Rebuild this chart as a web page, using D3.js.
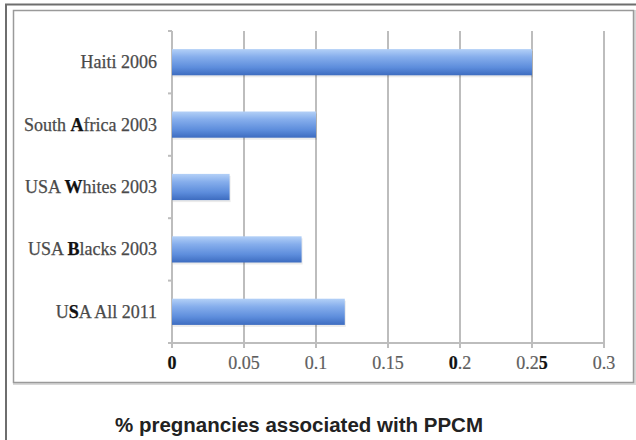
<!DOCTYPE html>
<html>
<head>
<meta charset="utf-8">
<script src="https://cdn.jsdelivr.net/npm/d3@7"></script>
<style>
  html, body { margin: 0; padding: 0; background: #fff; }
  svg { display: block; }
</style>
</head>
<body>
<svg id="chart" width="636" height="440"></svg>
<script>
// ---- data ----
const categories = ["Haiti 2006", "South Africa 2003", "USA Whites 2003", "USA Blacks 2003", "USA All 2011"];
// letters that appear emphasised (bold) in the original rendering: [prefix, bold, suffix]
const categoryParts = [
  ["Haiti 2006", "", ""],
  ["South ", "A", "frica 2003"],
  ["USA ", "W", "hites 2003"],
  ["USA ", "B", "lacks 2003"],
  ["U", "S", "A All 2011"]
];
const values = [0.25, 0.10, 0.04, 0.09, 0.12];
const xTicks = [0, 0.05, 0.1, 0.15, 0.2, 0.25, 0.3];
const xTickParts = [["", "0", ""], ["0.05", "", ""], ["0.1", "", ""], ["0.15", "", ""], ["", "0", ".2"], ["0.2", "5", ""], ["0.3", "", ""]];
const axisTitle = "% pregnancies associated with PPCM";

const svg = d3.select("#chart");

// gradient for bars
const defs = svg.append("defs");
const grad = defs.append("linearGradient").attr("id", "barGrad")
  .attr("x1", 0).attr("y1", 0).attr("x2", 0).attr("y2", 1);
[["0%", "#b3d0f7"], ["30%", "#86aeec"], ["70%", "#5d8ddc"], ["100%", "#3d6cc0"]]
  .forEach(([o, c]) => grad.append("stop").attr("offset", o).attr("stop-color", c));

// outer frame
svg.append("path").attr("d", "M6,440 V4.5 H636")
  .attr("fill", "none").attr("stroke", "#6e6e6e").attr("stroke-width", 2);

// inner chart box with soft shadow
svg.append("rect").attr("x", 14.5).attr("y", 11.5).attr("width", 620).attr("height", 372)
  .attr("fill", "none").attr("stroke", "#d8d8d8").attr("stroke-width", 3);
svg.append("rect").attr("x", 13.5).attr("y", 10.5).attr("width", 620).attr("height", 372)
  .attr("fill", "#fff").attr("stroke", "#9a9a9a").attr("stroke-width", 1.5);

const x = d3.scaleLinear().domain([0, 0.3]).range([172, 604]);
const y = d3.scaleBand().domain(categories).range([31, 343]).paddingInner(0.58).paddingOuter(0.29);
const yEdges = d3.scalePoint().domain(d3.range(categories.length + 1)).range([31, 343]);

const gridColor = "#bdbdbd";

// gridlines
svg.append("g").selectAll("line").data(xTicks.slice(1)).join("line")
  .attr("x1", d => x(d)).attr("x2", d => x(d))
  .attr("y1", 31).attr("y2", 348)
  .attr("stroke", gridColor).attr("stroke-width", 2);

// y axis line + ticks at band edges
svg.append("line").attr("x1", x(0)).attr("x2", x(0)).attr("y1", 31).attr("y2", 343)
  .attr("stroke", gridColor).attr("stroke-width", 2);
svg.append("g").selectAll("line").data(d3.range(categories.length + 1)).join("line")
  .attr("x1", x(0) - 4).attr("x2", x(0))
  .attr("y1", d => yEdges(d)).attr("y2", d => yEdges(d))
  .attr("stroke", gridColor).attr("stroke-width", 2);

// x axis line
svg.append("line").attr("x1", x(0) - 4).attr("x2", x(0.3)).attr("y1", 343).attr("y2", 343)
  .attr("stroke", gridColor).attr("stroke-width", 2);
svg.append("line").attr("x1", x(0)).attr("x2", x(0)).attr("y1", 343).attr("y2", 348)
  .attr("stroke", gridColor).attr("stroke-width", 2);

// bar shadows
svg.append("g").selectAll("rect").data(values).join("rect")
  .attr("x", x(0) + 1)
  .attr("y", (d, i) => y(categories[i]) + 2)
  .attr("width", d => x(d) - x(0))
  .attr("height", y.bandwidth())
  .attr("fill", "#000").attr("opacity", 0.08);

// bars
svg.append("g").selectAll("rect").data(values).join("rect")
  .attr("x", x(0))
  .attr("y", (d, i) => y(categories[i]))
  .attr("width", d => x(d) - x(0))
  .attr("height", y.bandwidth())
  .attr("fill", "url(#barGrad)");

// category labels
const catG = svg.append("g").attr("font-family", "'Liberation Serif', serif").attr("font-size", 18)
  .attr("fill", "#4a4a4a").attr("stroke", "#4a4a4a").attr("stroke-width", 0.25);
categoryParts.forEach((p, i) => {
  const t = catG.append("text").attr("x", 157).attr("y", y(categories[i]) + y.bandwidth() / 2)
    .attr("dy", "0.33em").attr("text-anchor", "end");
  t.append("tspan").text(p[0]);
  if (p[1]) t.append("tspan").attr("font-weight", "bold").attr("fill", "#111").attr("stroke", "#111").text(p[1]);
  if (p[2]) t.append("tspan").text(p[2]);
});

// x tick labels
const tickG = svg.append("g").attr("font-family", "'Liberation Serif', serif").attr("font-size", 18)
  .attr("fill", "#5e5e5e").attr("stroke", "#5e5e5e").attr("stroke-width", 0.2);
xTicks.forEach((v, i) => {
  const p = xTickParts[i];
  const t = tickG.append("text").attr("x", x(v)).attr("y", 363).attr("dy", "0.33em")
    .attr("text-anchor", "middle");
  if (p[0]) t.append("tspan").text(p[0]);
  if (p[1]) t.append("tspan").attr("font-weight", "bold").attr("fill", "#111").attr("stroke", "#111").text(p[1]);
  if (p[2]) t.append("tspan").text(p[2]);
});

// axis title
svg.append("text").attr("x", 299).attr("y", 432).attr("text-anchor", "middle")
  .attr("font-family", "'Liberation Sans', Arial, sans-serif").attr("font-weight", "bold")
  .attr("font-size", 20.5).attr("fill", "#222").text(axisTitle);
</script>
</body>
</html>
